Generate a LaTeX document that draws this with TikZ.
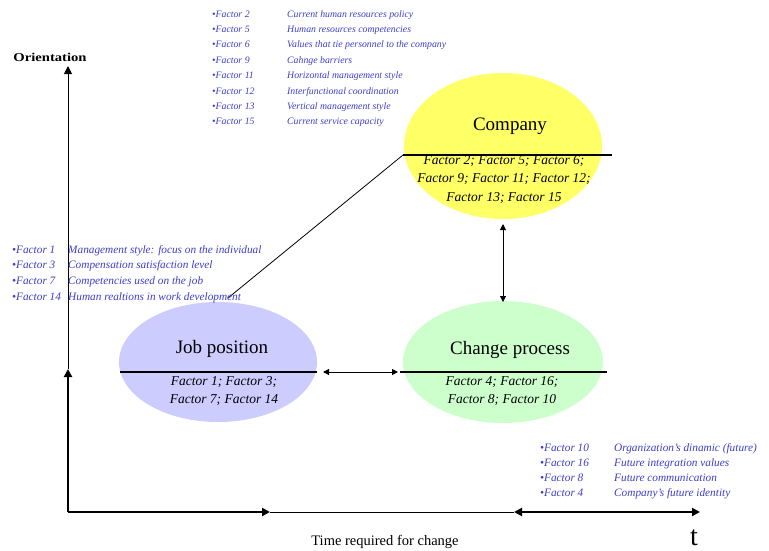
\documentclass[tikz,border=0pt]{standalone}
\usepackage{fontspec}
\setmainfont{Liberation Serif}
\usetikzlibrary{shapes.geometric,arrows.meta}
\definecolor{listblue}{RGB}{60,60,205}
\definecolor{compfill}{RGB}{255,255,102}
\definecolor{jobfill}{RGB}{204,204,255}
\definecolor{chgfill}{RGB}{204,255,204}
\tikzset{
  blob/.style={ellipse, draw=none, inner sep=0pt},
  title/.style={font=\fontsize{19}{21}\selectfont, anchor=base},
  factors/.style={font=\fontsize{13.5}{18.5}\selectfont\itshape, align=center, anchor=north},
  item/.style={font=\fontsize{9.8}{11}\selectfont\itshape, text=listblue, anchor=base west, inner sep=0pt},
  bigitem/.style={item, font=\fontsize{11.3}{12}\selectfont\itshape},
  divider/.style={line width=1.5pt},
  axisthick/.style={line width=2.4pt},
  axisthin/.style={line width=1pt},
  tip/.style={-{Triangle[length=8pt,width=8pt]}},
  smalltip/.style={{Triangle[length=6pt,width=6pt]}-{Triangle[length=6pt,width=6pt]}}
}
\begin{document}
\begin{tikzpicture}[x=1pt,y=-1pt]
\useasboundingbox (0,0) rectangle (769,550);

% ellipses
\node[blob, fill=compfill, minimum width=198pt, minimum height=146pt] (company) at (503,146) {};
\node[blob, fill=jobfill, minimum width=198pt, minimum height=120pt] (job) at (218,362) {};
\node[blob, fill=chgfill, minimum width=200pt, minimum height=122pt] (change) at (503,362) {};

% dividers across the ellipses
\coordinate (cdl) at (403,155); \coordinate (cdr) at (612,155);
\coordinate (jdl) at (120,372); \coordinate (jdr) at (317,372);
\coordinate (gdl) at (400,372); \coordinate (gdr) at (607,372);
\draw[divider] (cdl) -- (cdr);
\draw[divider] (jdl) -- (jdr);
\draw[divider] (gdl) -- (gdr);

% ellipse texts
\node[title] (companyT) at (510,130) {Company};
\node[factors] (companyF) at (504,152) {Factor 2; Factor 5; Factor 6;\\Factor 9; Factor 11; Factor 12;\\Factor 13; Factor 15};
\node[title] (jobT) at (222,353) {Job position};
\node[factors] (jobF) at (224,373) {Factor 1; Factor 3;\\Factor 7; Factor 14};
\node[title] (changeT) at (510,354) {Change process};
\node[factors] (changeF) at (502,373) {Factor 4; Factor 16;\\Factor 8; Factor 10};

% links between the ellipses
\coordinate (diagA) at (228,298);
\draw[line width=0.8pt] (diagA) -- (cdl);
\coordinate (hA) at (323,372); \coordinate (hB) at (398,372);
\draw[line width=1pt, smalltip] (hA) -- (hB);
\coordinate (vA) at (503,224); \coordinate (vB) at (503,302);
\draw[line width=1pt, smalltip] (vA) -- (vB);

% axes
\coordinate (origin) at (68,512);
\coordinate (ymid) at (68,369);
\coordinate (ytop) at (68,66);
\coordinate (xa) at (270,512);
\coordinate (xb) at (514,512);
\coordinate (xend) at (700,512);
\draw[axisthick, tip] (origin) -- (ymid);
\draw[axisthin, tip] (ymid) -- (ytop);
\draw[axisthick, tip] (origin) -- (xa);
\draw[axisthin] (xa) -- (xb);
\draw[axisthick, {Triangle[length=8pt,width=8pt]}-{Triangle[length=8pt,width=8pt]}] (xb) -- (xend);

\node[font=\fontsize{12}{14}\selectfont\bfseries, anchor=base, inner sep=0pt] (ylabel) at (50,61) {\scalebox{1.22}[1]{Orientation}};
\node[font=\fontsize{14.5}{16}\selectfont, anchor=base] (xlabel) at (385,545) {Time required for change};
\node[font=\fontsize{28}{30}\selectfont, anchor=base, inner sep=0pt] (tlabel) at (694,545) {t};

% factor lists
\foreach \n/\txt [count=\i from 0] in {
  2/Current human resources policy,
  5/Human resources competencies,
  6/Values that tie personnel to the company,
  9/Cahnge barriers,
  11/Horizontal management style,
  12/Interfunctional coordination,
  13/Vertical management style,
  15/Current service capacity}{
  \node[item] (tk\i) at (212,{17+15.4*\i}) {\textbullet Factor \n};
  \node[item] (td\i) at (287,{17+15.4*\i}) {\txt};
}
\foreach \n/\txt [count=\i from 0] in {
  1/Management style: focus on the individual,
  3/Compensation satisfaction level,
  7/Competencies used on the job,
  14/Human realtions in work development}{
  \node[bigitem] (lk\i) at (12,{253+15.9*\i}) {\textbullet Factor \n};
  \node[bigitem] (ld\i) at (68,{253+15.9*\i}) {\txt};
}
\foreach \n/\txt [count=\i from 0] in {
  10/Organization's dinamic (future),
  16/Future integration values,
  8/Future communication,
  4/Company's future identity}{
  \node[bigitem] (rk\i) at (540,{451+15*\i}) {\textbullet Factor \n};
  \node[bigitem] (rd\i) at (614,{451+15*\i}) {\txt};
}
\end{tikzpicture}
\end{document}
